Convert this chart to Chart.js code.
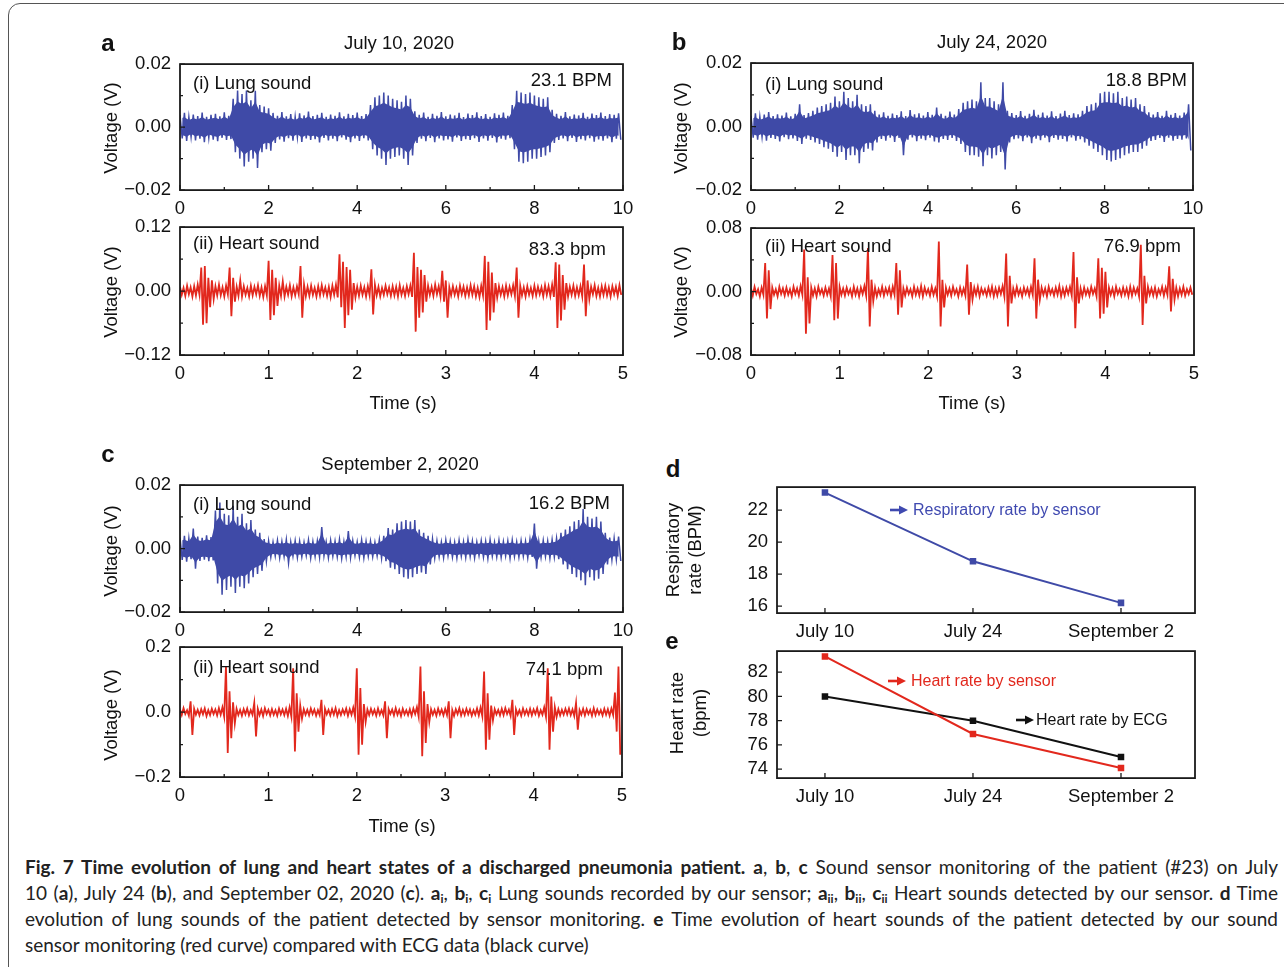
<!DOCTYPE html>
<html>
<head>
<meta charset="utf-8">
<script src="https://cdn.jsdelivr.net/npm/chart.js@4/dist/chart.umd.min.js"></script>
<style>
html, body { margin: 0; padding: 0; background: #fff; }
body { width: 1284px; height: 967px; position: relative; overflow: hidden;
  font-family: "Liberation Sans", Arial, sans-serif; color: #111; }
.frame { position: absolute; left: 8px; top: 3px; width: 1300px; height: 1000px;
  border: 1.5px solid #555; border-radius: 12px; }
.box { position: absolute; }
.t { position: absolute; white-space: nowrap; font-size: 18.5px; line-height: 1; }
.c { transform: translate(-50%, -50%); }
.l { transform: translate(0, -50%); }
.r { transform: translate(-100%, -50%); }
.rot { transform: translate(-50%, -50%) rotate(-90deg); text-align: center; }
.p { font-weight: bold; font-size: 24px; }
.note { font-size: 16px; display: flex; align-items: center; gap: 5px; }
.caption { position: absolute; left: 25px; top: 854px; width: 1253px;
  font-family: Lato, sans-serif; font-size: 19px; color: #222; }
.caption div { height: 26px; line-height: 26px; text-align: justify; text-align-last: justify; white-space: nowrap; }
.caption div.last { text-align-last: left; }
.caption sub { font-size: 12px; vertical-align: -3px; line-height: 0; }
</style>
</head>
<body>
<div class="frame"></div>

<div class="box" id="boxAi"><canvas id="lungA"></canvas></div>
<div class="box" id="boxAii"><canvas id="heartA"></canvas></div>
<div class="box" id="boxBi"><canvas id="lungB"></canvas></div>
<div class="box" id="boxBii"><canvas id="heartB"></canvas></div>
<div class="box" id="boxCi"><canvas id="lungC"></canvas></div>
<div class="box" id="boxCii"><canvas id="heartC"></canvas></div>
<div class="box" id="boxD"><canvas id="respChart"></canvas></div>
<div class="box" id="boxE"><canvas id="hrChart"></canvas></div>

<div class="t p c" style="left:108px;top:43px">a</div>
<div class="t c" style="left:399px;top:43px">July 10, 2020</div>
<div class="t p c" style="left:679px;top:42px">b</div>
<div class="t c" style="left:992px;top:42px">July 24, 2020</div>
<div class="t p c" style="left:108px;top:454px">c</div>
<div class="t c" style="left:400px;top:464px">September 2, 2020</div>
<div class="t p c" style="left:673px;top:469px">d</div>
<div class="t p c" style="left:672px;top:641px">e</div>

<div class="t l" style="left:193px;top:83px">(i) Lung sound</div>
<div class="t r" style="left:612px;top:80px">23.1 BPM</div>
<div class="t l" style="left:193px;top:243px">(ii) Heart sound</div>
<div class="t r" style="left:606px;top:249px">83.3 bpm</div>
<div class="t l" style="left:765px;top:84px">(i) Lung sound</div>
<div class="t r" style="left:1187px;top:80px">18.8 BPM</div>
<div class="t l" style="left:765px;top:246px">(ii) Heart sound</div>
<div class="t r" style="left:1181px;top:246px">76.9 bpm</div>
<div class="t l" style="left:193px;top:504px">(i) Lung sound</div>
<div class="t r" style="left:610px;top:503px">16.2 BPM</div>
<div class="t l" style="left:193px;top:667px">(ii) Heart sound</div>
<div class="t r" style="left:603px;top:669px">74.1 bpm</div>

<div class="t rot" style="left:111px;top:128px">Voltage (V)</div>
<div class="t rot" style="left:111px;top:292px">Voltage (V)</div>
<div class="t rot" style="left:681px;top:128px">Voltage (V)</div>
<div class="t rot" style="left:681px;top:292px">Voltage (V)</div>
<div class="t rot" style="left:111px;top:551px">Voltage (V)</div>
<div class="t rot" style="left:111px;top:715px">Voltage (V)</div>
<div class="t c" style="left:403px;top:403px">Time (s)</div>
<div class="t c" style="left:972px;top:403px">Time (s)</div>
<div class="t c" style="left:402px;top:826px">Time (s)</div>
<div class="t rot" style="left:684px;top:550px;line-height:22px">Respiratory<br>rate (BPM)</div>
<div class="t rot" style="left:688px;top:713px;line-height:23px">Heart rate<br>(bpm)</div>

<div class="t note l" style="left:890px;top:510px;color:#3f49b0">
  <svg width="18" height="10"><line x1="0" y1="5" x2="11" y2="5" stroke="#3f49b0" stroke-width="2.6"/><polygon points="9,0.5 18,5 9,9.5" fill="#3f49b0"/></svg>Respiratory rate by sensor</div>
<div class="t note l" style="left:888px;top:681px;color:#e2281d">
  <svg width="18" height="10"><line x1="0" y1="5" x2="11" y2="5" stroke="#e2281d" stroke-width="2.6"/><polygon points="9,0.5 18,5 9,9.5" fill="#e2281d"/></svg>Heart rate by sensor</div>
<div class="t note l" style="left:1016px;top:720px;color:#111;gap:2px">
  <svg width="18" height="10"><line x1="0" y1="5" x2="11" y2="5" stroke="#111" stroke-width="2.6"/><polygon points="9,0.5 18,5 9,9.5" fill="#111"/></svg>Heart rate by ECG</div>

<div class="caption">
  <div><b>Fig. 7 Time evolution of lung and heart states of a discharged pneumonia patient.</b> <b>a</b>, <b>b</b>, <b>c</b> Sound sensor monitoring of the patient (#23) on July</div>
  <div>10 (<b>a</b>), July 24 (<b>b</b>), and September 02, 2020 (<b>c</b>). <b>a<sub>i</sub></b>, <b>b<sub>i</sub></b>, <b>c<sub>i</sub></b> Lung sounds recorded by our sensor; <b>a<sub>ii</sub></b>, <b>b<sub>ii</sub></b>, <b>c<sub>ii</sub></b> Heart sounds detected by our sensor. <b>d</b> Time</div>
  <div>evolution of lung sounds of the patient detected by sensor monitoring. <b>e</b> Time evolution of heart sounds of the patient detected by our sound</div>
  <div class="last">sensor monitoring (red curve) compared with ECG data (black curve)</div>
</div>

<script>
// ---- data ----
// lung sounds: upper / lower envelope in mV, one value per 0.1 s bin
var lungStep = 0.1;
var lungA_hi = [3.8,4.5,3.2,4.0,3.5,4.6,3.3,3.9,4.2,3.4,4.7,3.6,
  9,11.6,10.5,11.6,8.5,11.5,7,6.5,6,4.5,
  3.6,4.8,3.4,4.1,3.2,4.4,3.7,4.9,3.5,3.9,4.5,3.3,4.0,3.6,4.7,3.4,4.2,3.8,4.6,3.5,4.1,
  7,9.5,10,11,10,9,8.5,8,10,9,5,
  3.9,4.6,3.3,4.2,3.6,4.8,3.4,4.0,3.7,4.5,3.2,4.3,3.8,4.7,3.5,4.1,3.3,4.4,3.9,4.6,3.6,
  7,11.5,11,10.5,11,10,9.5,9,9.5,5.5,
  4.2,3.6,4.8,3.4,4.0,3.7,4.5,3.3,4.3,3.8,4.6,3.5,4.1,3.9,4.4];
var lungA_lo = [-3.6,-4.4,-3.1,-4.2,-3.7,-4.8,-3.3,-4.0,-4.5,-3.4,-4.1,-3.8,
  -8,-10,-12.5,-11,-10,-13,-8,-7,-7.5,-5,
  -3.9,-4.6,-3.5,-4.3,-3.2,-4.7,-3.6,-4.1,-3.8,-4.9,-3.4,-4.2,-3.7,-4.5,-3.3,-4.0,-4.8,-3.6,-4.4,-3.5,-4.2,
  -7,-9,-10,-12,-10,-9.5,-9,-10,-12,-9,-5,
  -3.7,-4.5,-3.4,-4.8,-3.6,-4.2,-3.9,-4.6,-3.3,-4.4,-3.8,-4.1,-3.5,-4.7,-3.6,-4.3,-3.4,-4.9,-3.7,-4.0,-3.5,
  -7,-11,-11.5,-11,-10,-10,-9.5,-9,-8,-5,
  -4.1,-3.6,-4.5,-3.4,-4.7,-3.8,-4.2,-3.5,-4.6,-3.9,-4.3,-3.6,-4.8,-3.7,-4.0];
var lungB_hi = [3.4,4.2,3.1,3.8,4.6,3.3,3.9,3.5,4.4,3.2,4.0,7.0,3.6,4.3,
  5,6,6.5,7,7.5,9.5,8,11,9,8,10,7,6.5,7,5,
  3.8,4.5,3.4,4.1,3.6,4.8,3.3,5.2,3.9,4.2,3.5,4.6,3.7,6.0,4.0,3.4,4.7,3.8,
  5.5,7.5,8,8.5,8,14,9,9,8,7,14,5,
  4.3,3.6,4.9,3.4,4.0,5.3,3.7,4.4,3.5,4.8,3.3,4.1,5.0,3.6,4.2,3.9,
  5,6.5,7,7.5,10.5,11,11,10.5,11,9,9.5,8.5,9,7,6.5,4.5,
  3.8,4.6,3.4,5.0,3.7,4.3,3.5,4.4,7.0];
var lungB_lo = [-3.5,-4.1,-3.2,-4.4,-3.6,-3.9,-4.7,-3.3,-4.0,-3.7,-4.5,-5.5,-3.8,-4.2,
  -5,-5.5,-6.5,-7,-8,-9.5,-8,-10.5,-9,-9,-11.5,-8,-7,-7.5,-5,
  -3.9,-4.4,-3.5,-4.8,-3.6,-9.0,-4.1,-3.4,-4.6,-3.8,-4.3,-3.5,-4.7,-5.0,-3.9,-4.2,-3.6,-4.5,
  -5.5,-8,-9,-9,-9.5,-12.5,-9,-10,-9,-8,-13.5,-5,
  -4.0,-3.7,-4.6,-3.4,-5.2,-3.8,-4.3,-3.5,-4.9,-3.6,-4.1,-3.9,-4.7,-3.4,-4.4,-4.0,
  -5,-6,-7,-8,-9,-10.5,-11,-10.5,-10,-9,-8.5,-8,-8,-7,-6,-4.5,
  -4.2,-3.6,-4.8,-3.5,-4.4,-3.9,-4.1,-3.7,-7.5];
var lungC_hi = [3.5,4.0,3.2,6.3,3.8,3.4,4.2,3.6,
  12,14.5,11,10.5,13.5,10,11,8,9,6,5,3,
  2.4,2.0,2.6,2.2,2.8,2.1,2.5,2.3,2.0,2.7,2.2,2.4,6.8,2.1,2.6,2.3,2.9,2.2,5.5,2.5,2.1,2.7,2.3,2.4,2.0,2.8,
  4,6.5,6,8,8.5,9,8.5,9,6,5,4,3,
  2.4,2.1,2.7,2.3,2.0,2.6,2.2,2.9,2.4,2.1,2.5,2.3,2.8,2.0,2.6,2.2,2.4,2.7,2.1,2.5,2.3,2.9,7.9,2.2,2.6,2.4,2.8,3.2,
  5,6,7,8.5,9,12.5,10,9.5,10,8.5,5,3.5,3.2,3.8];
var lungC_lo = [-3.6,-4.1,-3.3,-6.3,-3.9,-3.5,-4.0,-3.7,
  -11,-14.5,-13,-12,-14,-12,-12.5,-11,-9,-8,-7,-4,
  -2.7,-2.3,-2.9,-2.5,-4.5,-2.4,-2.8,-2.6,-2.2,-3.0,-2.5,-2.7,-2.3,-2.9,-2.4,-2.6,-3.1,-2.5,-2.8,-2.2,-2.7,-2.9,-2.4,-2.6,-2.3,-3.0,
  -4,-6,-6.5,-8,-9,-9.5,-9,-8,-7.5,-8,-5,-3,
  -2.6,-2.9,-2.3,-2.7,-3.0,-2.4,-2.8,-2.5,-2.9,-2.2,-2.7,-3.1,-2.4,-2.6,-2.8,-2.3,-3.0,-2.5,-2.7,-2.4,-2.9,-2.6,-6.3,-2.8,-2.5,-3.0,-2.7,-3.3,
  -5,-6.5,-8,-9,-10,-11.5,-9,-10,-9.5,-8,-5,-3.5,-3.4,-3.9];

// heart sounds: upper / lower envelope in mV, one value per 0.04 s bin
var heartStep = 0.04;
var heartA_hi = [8,6,10,7,9,12,44,47,25,20, 9,12,7,10,44,25,8,20,9,6,
  10,8,11,7,9,57,40,25,10,18, 8,11,7,9,47,12,8,10,6,9,
  11,7,8,10,12,69,55,45,40,15, 8,10,7,9,41,12,8,6,10,7,
  9,8,11,6,9,10,72,45,40,30, 10,8,12,9,38,20,7,9,6,10,
  8,7,11,9,6,10,66,55,35,15, 9,7,10,8,11,44,10,7,9,6,
  10,8,7,11,9,12,54,50,30,15, 8,10,7,9,50,20,8,11,6,9, 10,7,9,8,11];
var heartA_lo = [-7,-9,-6,-10,-8,-7,-63,-60,-30,-15, -8,-8,-10,-6,-47,-20,-9,-10,-7,-10,
  -8,-6,-9,-11,-8,-54,-45,-28,-9,-10, -7,-10,-8,-6,-50,-10,-9,-7,-10,-8,
  -6,-9,-11,-7,-12,-30,-69,-45,-35,-12, -9,-7,-10,-8,-44,-8,-10,-7,-6,-9,
  -8,-10,-7,-9,-6,-11,-76,-50,-40,-20, -7,-9,-6,-10,-20,-50,-8,-7,-10,-6,
  -9,-8,-7,-10,-11,-8,-73,-55,-40,-12, -7,-10,-8,-6,-9,-50,-8,-10,-7,-9,
  -8,-6,-10,-7,-9,-11,-69,-55,-35,-10, -7,-9,-8,-10,-47,-15,-6,-9,-10,-7, -8,-10,-6,-9,-7];
var heartB_hi = [4,6,3,5,36,27,5,3,6,4, 5,3,6,4,7,53,18,5,4,6,
  3,5,4,46,36,6,4,5,3,6, 4,5,7,55,15,5,3,6,4,5,
  6,36,27,4,5,3,6,4,7,5, 3,6,4,63,15,5,4,6,3,5,
  4,34,12,5,6,4,3,5,6,4, 5,7,48,20,4,6,3,5,4,6,
  42,15,5,4,6,3,5,7,4,5, 6,50,18,4,5,3,6,4,42,30,
  25,5,4,6,3,5,4,6,5,4, 59,20,6,4,5,3,6,5,32,16, 5,4,6,3,5];
var heartB_lo = [-5,-3,-6,-4,-34,-22,-4,-6,-3,-5, -4,-6,-3,-5,-4,-53,-40,-5,-6,-3,
  -5,-4,-6,-36,-34,-4,-5,-3,-6,-4, -6,-3,-5,-44,-12,-6,-4,-5,-3,-6,
  -4,-29,-20,-5,-3,-6,-4,-5,-6,-3, -5,-4,-6,-44,-20,-4,-5,-3,-6,-4,
  -5,-29,-10,-4,-6,-3,-5,-4,-6,-5, -3,-6,-44,-15,-5,-4,-6,-3,-5,-4,
  -34,-10,-4,-6,-3,-5,-4,-6,-5,-3, -5,-46,-15,-6,-4,-5,-3,-6,-34,-28,
  -20,-4,-6,-3,-5,-4,-6,-5,-3,-6, -42,-15,-4,-5,-6,-3,-5,-4,-25,-10, -6,-4,-5,-3,-4];
var heartC_hi = [8,12,6,33,10,7,9,11,6,10, 8,12,15,140,64,30,10,7,9,11,
  6,28,10,8,12,7,9,6,11,8, 10,15,135,58,20,9,7,11,8,6,
  38,10,7,9,12,6,8,11,9,14, 135,74,25,8,10,7,11,6,33,9,
  8,12,7,10,6,9,11,15,140,64, 25,9,7,11,8,10,33,6,9,12,
  7,10,8,6,11,14,125,58,20,9, 7,10,12,8,38,9,6,11,7,10,
  8,12,6,15,135,48,15,9,7,10, 11,8,28,6,10,9,7,12,8,6, 10,9,11,60,140];
var heartC_lo = [-9,-6,-11,-70,-8,-10,-7,-12,-9,-6, -10,-8,-14,-126,-80,-35,-9,-11,-7,-10,
  -8,-75,-9,-12,-6,-10,-8,-11,-7,-9, -12,-14,-121,-60,-20,-8,-10,-6,-11,-9,
  -70,-7,-10,-8,-12,-9,-6,-11,-8,-13, -131,-100,-30,-9,-7,-11,-8,-10,-80,-6,
  -10,-8,-12,-7,-9,-11,-6,-14,-136,-95, -30,-8,-11,-7,-10,-9,-80,-12,-6,-10,
  -9,-7,-11,-8,-10,-13,-116,-85,-25,-7, -10,-9,-6,-12,-70,-8,-11,-7,-9,-10,
  -6,-11,-8,-14,-116,-60,-15,-10,-8,-7, -9,-12,-54,-8,-10,-6,-11,-9,-7,-10, -8,-11,-9,-60,-131];

// rates over the visits
var visitDates = ['July 10', 'July 24', 'September 2'];
var respRate = [23.1, 18.8, 16.2];
var heartRateSensor = [83.3, 76.9, 74.1];
var heartRateECG = [80, 78, 75];

// ticks
var lungXTicks = [0,1,2,3,4,5,6,7,8,9,10];
var lungXLabels = ['0','','2','','4','','6','','8','','10'];
var heartXTicks = [0,0.5,1,1.5,2,2.5,3,3.5,4,4.5,5];
var heartXLabels = ['0','','1','','2','','3','','4','','5'];
var lungYTicks = [-0.02,-0.01,0,0.01,0.02];
var lungYLabels = ['\u22120.02','','0.00','','0.02'];
var heartAYTicks = [-0.12,-0.06,0,0.06,0.12];
var heartAYLabels = ['\u22120.12','','0.00','','0.12'];
var heartBYTicks = [-0.08,-0.04,0,0.04,0.08];
var heartBYLabels = ['\u22120.08','','0.00','','0.08'];
var heartCYTicks = [-0.2,-0.1,0,0.1,0.2];
var heartCYLabels = ['\u22120.2','','0.0','','0.2'];
var respYTicks = [16,18,20,22];
var hrYTicks = [74,76,78,80,82];

// ---- layout ----
var BLUE = '#3f4aa7', RED = '#e2281d', BLACK = '#111';
var AXW = 80, AXH = 40, PADT = 15, PADR = 25;
var CORE = 0.7;   // solid part of the lung trace, the rest is drawn by the trace itself

Chart.defaults.font.family = '"Liberation Sans", Arial, sans-serif';
Chart.defaults.font.size = 18.5;
Chart.defaults.color = '#111';
Chart.defaults.animation = false;

// inward tick marks + box frame
var frameTicks = {
    id: 'frameTicks',
    afterDraw: function(chart) {
        var ctx = chart.ctx, a = chart.chartArea;
        var sx = chart.scales.x, sy = chart.scales.y;
        ctx.save();
        ctx.strokeStyle = '#1a1a1a';
        ctx.lineWidth = 1.3;
        ctx.beginPath();
        sx.ticks.forEach(function(t) {
            var px = sx.getPixelForValue(t.value);
            var len = t.label === '' ? 3 : 5;
            ctx.moveTo(px, a.bottom);
            ctx.lineTo(px, a.bottom - len);
        });
        sy.ticks.forEach(function(t) {
            var py = sy.getPixelForValue(t.value);
            var len = t.label === '' ? 3 : 5;
            ctx.moveTo(a.left, py);
            ctx.lineTo(a.left + len, py);
        });
        ctx.stroke();
        ctx.lineWidth = 1.8;
        ctx.strokeRect(a.left, a.top, a.right - a.left, a.bottom - a.top);
        ctx.restore();
    }
};

function placeBox(id, plot) {
    var el = document.getElementById(id);
    el.style.left = (plot[0] - AXW) + 'px';
    el.style.top = (plot[1] - PADT) + 'px';
    el.style.width = (plot[2] - plot[0] + AXW + PADR) + 'px';
    el.style.height = (plot[3] - plot[1] + PADT + AXH) + 'px';
}

// move/resize the box so that the plot area lands on the wanted pixels
function fitBox(chart, id, plot) {
    var el = document.getElementById(id);
    var a = chart.chartArea;
    var W = chart.width, H = chart.height;
    el.style.left = (plot[0] - a.left) + 'px';
    el.style.top = (plot[1] - a.top) + 'px';
    el.style.width = (a.left + (plot[2] - plot[0]) + (W - a.right)) + 'px';
    el.style.height = (a.top + (plot[3] - plot[1]) + (H - a.bottom)) + 'px';
    chart.resize();
}

function axis(min, max, ticks, labels, isX) {
    return {
        type: 'linear', min: min, max: max,
        grid: { display: false, drawTicks: false },
        border: { display: false },
        afterBuildTicks: function(s) { s.ticks = ticks.map(function(v) { return { value: v }; }); },
        afterFit: function(s) { if (isX) s.height = AXH; else s.width = AXW; },
        ticks: { padding: isX ? 8 : 9, autoSkip: false, maxRotation: 0,
                 callback: function(v, i) { return labels[i]; } }
    };
}

function zigzag(hi, lo, step) {
    var pts = [];
    for (var i = 0; i < hi.length; i++) {
        pts.push({ x: i * step, y: hi[i] / 1000 });
        pts.push({ x: (i + 0.5) * step, y: lo[i] / 1000 });
    }
    return pts;
}

function edge(vals, step, shift) {
    return vals.map(function(v, i) { return { x: (i + shift) * step, y: CORE * v / 1000 }; });
}

function baseOptions(xAxis, yAxis) {
    return {
        responsive: true, maintainAspectRatio: false,
        layout: { padding: { left: 0, top: PADT, right: PADR, bottom: 0 } },
        plugins: { legend: { display: false }, tooltip: { enabled: false } },
        scales: { x: xAxis, y: yAxis }
    };
}

function lungChart(canvasId, boxId, plot, hi, lo) {
    placeBox(boxId, plot);
    var chart = new Chart(document.getElementById(canvasId), {
        type: 'line',
        data: { datasets: [
            { data: edge(hi, lungStep, 0), borderWidth: 0, pointRadius: 0, fill: false },
            { data: edge(lo, lungStep, 0.5), borderWidth: 0, pointRadius: 0,
              fill: '-1', backgroundColor: BLUE },
            { data: zigzag(hi, lo, lungStep), borderColor: BLUE, borderWidth: 1.5,
              pointRadius: 0, tension: 0 }
        ] },
        options: baseOptions(
            axis(0, 10, lungXTicks, lungXLabels, true),
            axis(-0.02, 0.02, lungYTicks, lungYLabels, false)),
        plugins: [frameTicks]
    });
    fitBox(chart, boxId, plot);
}

function heartChart(canvasId, boxId, plot, hi, lo, yT, yL) {
    placeBox(boxId, plot);
    var chart = new Chart(document.getElementById(canvasId), {
        type: 'line',
        data: { datasets: [{ data: zigzag(hi, lo, heartStep), borderColor: RED, borderWidth: 1.8,
                pointRadius: 0, tension: 0 }] },
        options: baseOptions(
            axis(0, 5, heartXTicks, heartXLabels, true),
            axis(yT[0], yT[yT.length - 1], yT, yL, false)),
        plugins: [frameTicks]
    });
    fitBox(chart, boxId, plot);
}

lungChart('lungA', 'boxAi', [180, 64, 623, 190], lungA_hi, lungA_lo);
heartChart('heartA', 'boxAii', [180, 227, 623, 355], heartA_hi, heartA_lo, heartAYTicks, heartAYLabels);
lungChart('lungB', 'boxBi', [751, 63, 1193, 190], lungB_hi, lungB_lo);
heartChart('heartB', 'boxBii', [751, 228, 1194, 355], heartB_hi, heartB_lo, heartBYTicks, heartBYLabels);
lungChart('lungC', 'boxCi', [180, 485, 623, 612], lungC_hi, lungC_lo);
heartChart('heartC', 'boxCii', [180, 647, 622, 777], heartC_hi, heartC_lo, heartCYTicks, heartCYLabels);

function rateChart(canvasId, boxId, plot, series, yMin, yMax, yT) {
    placeBox(boxId, plot);
    var yLabels = yT.map(String);
    var chart = new Chart(document.getElementById(canvasId), {
        type: 'line',
        data: {
            datasets: series.map(function(s) {
                return {
                    data: s.values.map(function(v, i) { return { x: i + 1, y: v }; }),
                    borderColor: s.color, backgroundColor: s.color, borderWidth: 2,
                    pointStyle: 'rect', pointRadius: 3.2, tension: 0
                };
            })
        },
        options: baseOptions(
            axis(0.676, 3.5, [1, 2, 3], visitDates, true),
            axis(yMin, yMax, yT, yLabels, false)),
        plugins: [frameTicks]
    });
    fitBox(chart, boxId, plot);
}

rateChart('respChart', 'boxD', [777, 487, 1195, 613],
    [{ values: respRate, color: BLUE }], 15.56, 23.44, respYTicks);
rateChart('hrChart', 'boxE', [777, 651, 1195, 778],
    [{ values: heartRateSensor, color: RED }, { values: heartRateECG, color: BLACK }], 73.26, 83.74, hrYTicks);
</script>
</body>
</html>
